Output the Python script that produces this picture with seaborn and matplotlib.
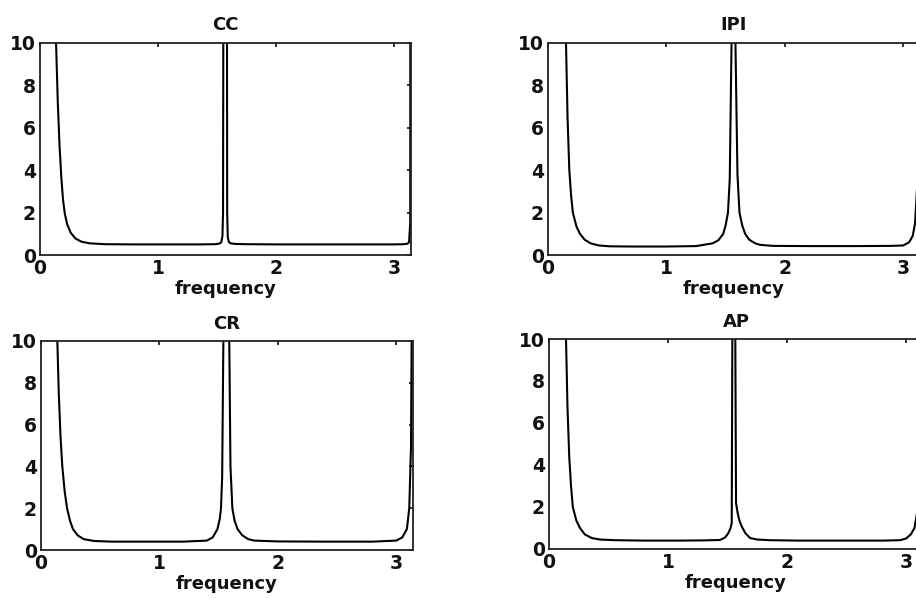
import matplotlib
matplotlib.use("Agg")
import matplotlib.pyplot as plt
import seaborn as sns
import numpy as np
import pandas as pd

# ---- data (frequency, spectrum value) ----
titles = ["CC", "IPI", "CR", "AP"]

cc_x = [0.12, 0.136, 0.15, 0.165, 0.18, 0.195, 0.21, 0.23, 0.26, 0.30, 0.35, 0.42,
        0.55, 0.8, 1.1, 1.35, 1.48, 1.52, 1.535, 1.545, 1.55, 1.5708, 1.585, 1.59,
        1.60, 1.62, 1.66, 1.75, 2.0, 2.4, 2.8, 3.0, 3.08, 3.11, 3.125, 3.135, 3.1416]
cc_y = [14.0, 10.0, 7.3, 5.2, 3.7, 2.6, 1.95, 1.45, 1.05, 0.78, 0.63, 0.55,
        0.51, 0.5, 0.5, 0.5, 0.51, 0.54, 0.6, 0.9, 2.0, 80.0, 2.0, 0.85,
        0.6, 0.54, 0.52, 0.51, 0.5, 0.5, 0.5, 0.5, 0.51, 0.53, 0.6, 1.5, 80.0]

ipi_x = [0.13, 0.152, 0.165, 0.18, 0.195, 0.21, 0.24, 0.27, 0.31, 0.36, 0.43, 0.52,
         0.7, 1.0, 1.25, 1.39, 1.44, 1.48, 1.50, 1.52, 1.535, 1.55, 1.5708, 1.583,
         1.60, 1.617, 1.64, 1.665, 1.70, 1.75, 1.79, 1.9, 2.2, 2.6, 2.9, 3.0,
         3.05, 3.08, 3.10, 3.12, 3.135, 3.1416]
ipi_y = [15.0, 10.0, 6.5, 4.0, 2.8, 2.0, 1.35, 1.0, 0.72, 0.55, 0.45, 0.41,
         0.4, 0.4, 0.42, 0.55, 0.7, 1.0, 1.4, 2.0, 3.6, 10.0, 80.0, 10.0,
         3.8, 2.0, 1.4, 1.0, 0.72, 0.55, 0.48, 0.43, 0.42, 0.42, 0.43, 0.45,
         0.6, 0.9, 1.5, 3.5, 10.0, 80.0]

cr_x = [0.12, 0.138, 0.15, 0.165, 0.18, 0.20, 0.22, 0.245, 0.27, 0.31, 0.36, 0.45,
        0.6, 0.9, 1.2, 1.40, 1.45, 1.49, 1.51, 1.52, 1.53, 1.54, 1.5708, 1.59,
        1.60, 1.616, 1.635, 1.66, 1.70, 1.75, 1.80, 2.0, 2.4, 2.8, 3.0, 3.05,
        3.09, 3.11, 3.125, 3.13, 3.1416]
cr_y = [15.0, 10.0, 7.5, 5.4, 4.0, 2.8, 2.0, 1.4, 1.0, 0.7, 0.52, 0.43,
        0.4, 0.4, 0.4, 0.45, 0.6, 1.0, 1.5, 2.0, 3.5, 10.0, 80.0, 10.0,
        4.0, 2.0, 1.4, 1.0, 0.7, 0.52, 0.45, 0.41, 0.4, 0.4, 0.45, 0.6,
        1.0, 2.0, 5.0, 10.0, 80.0]

ap_x = [0.12, 0.143, 0.155, 0.17, 0.185, 0.20, 0.23, 0.26, 0.30, 0.36, 0.43, 0.55,
        0.8, 1.1, 1.3, 1.437, 1.48, 1.507, 1.525, 1.535, 1.54, 1.555, 1.565, 1.571,
        1.585, 1.60, 1.62, 1.65, 1.69, 1.75, 1.85, 2.1, 2.5, 2.8, 2.95, 3.0,
        3.04, 3.07, 3.10, 3.12, 3.135, 3.1416]
ap_y = [15.0, 10.0, 6.8, 4.4, 3.0, 2.0, 1.35, 1.0, 0.7, 0.52, 0.45, 0.42,
        0.4, 0.4, 0.41, 0.43, 0.55, 0.76, 1.0, 1.24, 10.0, 80.0, 10.0, 2.2,
        1.7, 1.35, 1.06, 0.75, 0.52, 0.45, 0.42, 0.4, 0.4, 0.4, 0.42, 0.5,
        0.7, 1.0, 2.0, 4.0, 10.0, 80.0]

xs = [cc_x, ipi_x, cr_x, ap_x]
ys = [cc_y, ipi_y, cr_y, ap_y]

x_ticks = [0, 1, 2, 3]
y_ticks = [0, 2, 4, 6, 8, 10]

# ---- style ----
sns.set_theme(style="white")
plt.rcParams["font.family"] = ["DejaVu Sans"]
plt.rcParams["axes.edgecolor"] = "#222222"
plt.rcParams["axes.linewidth"] = 1.3

fig = plt.figure(figsize=(9.16, 5.98), dpi=100)

W, H = 916.0, 598.0
# axes boxes in pixels: left, top, right, bottom
boxes = [(40, 43, 411, 255), (548, 43, 920, 255),
         (41, 341, 413, 550), (549, 339, 923, 549)]

for i, (l, t, r, b) in enumerate(boxes):
    ax = fig.add_axes([l / W, 1 - b / H, (r - l) / W, (b - t) / H])
    df = pd.DataFrame({"frequency": xs[i], "value": ys[i]})
    sns.lineplot(data=df, x="frequency", y="value", ax=ax, color="black",
                 linewidth=1.5, sort=True, estimator=None)
    ax.set_xlim(0, np.pi)
    ax.set_ylim(0, 10)
    ax.set_xticks(x_ticks)
    ax.set_yticks(y_ticks)
    ax.set_xticklabels([str(v) for v in x_ticks], fontsize=13.5, fontweight="bold")
    ax.set_yticklabels([str(v) for v in y_ticks], fontsize=13.5, fontweight="bold")
    ax.tick_params(direction="in", top=True, right=True, length=3, width=1.2,
                   pad=3, colors="#111111")
    ax.set_ylabel("")
    ax.set_xlabel("frequency", fontsize=13, fontweight="bold", labelpad=1,
                  color="#111111")
    ax.set_title(titles[i], fontsize=13, fontweight="bold", pad=9, color="#111111")
    for s in ax.spines.values():
        s.set_visible(True)
        s.set_color("#222222")

fig.savefig("out.png", dpi=100, facecolor="white")
